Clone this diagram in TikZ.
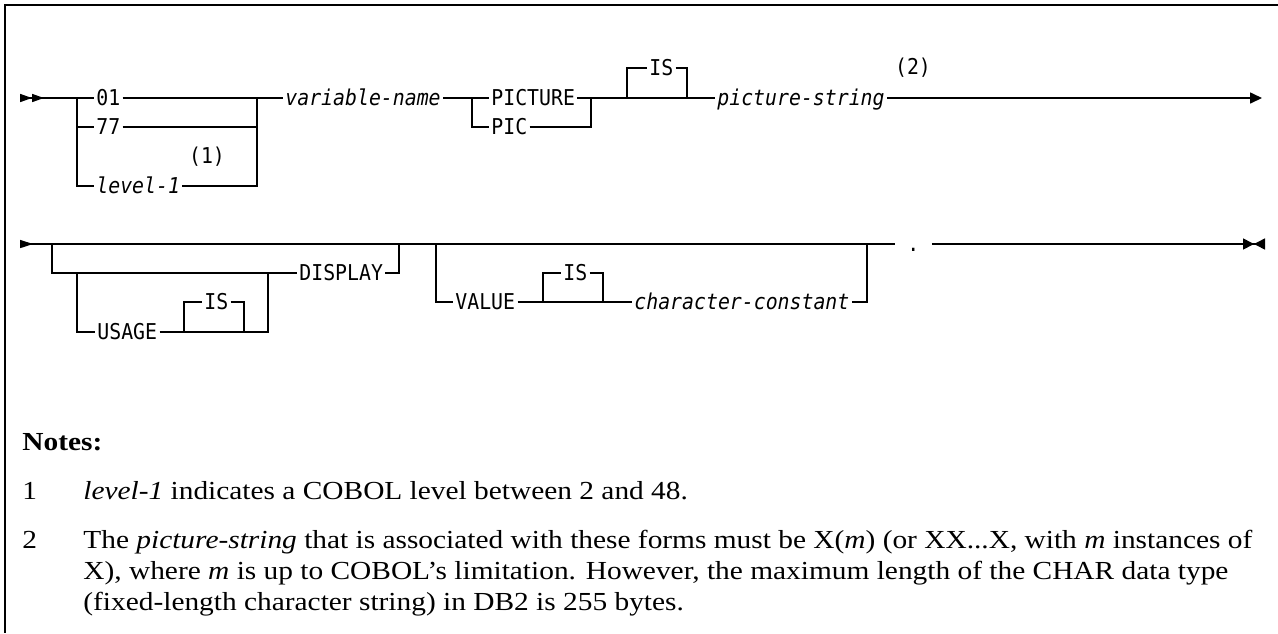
\documentclass[tikz,border=0pt]{standalone}
\usepackage{fontspec}
\setmainfont{Liberation Serif}[FakeStretch=1.13]
\setmonofont{DejaVu Sans Mono}[FakeStretch=0.91]
\usetikzlibrary{arrows.meta}

\begin{document}
\begin{tikzpicture}[x=0.5pt, y=-0.5pt,
        rail/.style={line width=0.8pt},
        kw/.style={anchor=west, inner xsep=1pt, inner ysep=0pt, text height=7.9pt, text depth=0pt, font=\ttfamily\fontsize{10.9}{12}\selectfont},
        var/.style={kw, font=\ttfamily\itshape\fontsize{10.9}{12}\selectfont},
        fnref/.style={inner sep=0pt, font=\ttfamily\fontsize{10.9}{12}\selectfont},
        note/.style={anchor=base west, inner sep=0pt, align=left, font=\fontsize{13}{15.5}\selectfont\lineskiplimit-20pt\relax},
        begintip/.style={{Triangle[reversed,length=6pt,width=4pt]Triangle[reversed,length=6pt,width=4pt]}-},
        contintip/.style={{Triangle[reversed,length=6.5pt,width=4pt]}-},
        contouttip/.style={-{Triangle[length=6pt,width=5.5pt]}},
        finaltip/.style={-{Triangle[length=5.5pt,width=5.5pt]Triangle[reversed,length=5.5pt,width=5.5pt]}}]
                \useasboundingbox (0,0) rectangle (1278,633);
                \draw[line width=1.2pt] (1278,5) -- (5,5) -- (5,633);
                \coordinate (s1) at (20,98);
                \coordinate (j1) at (77,98);
                \coordinate (k1) at (257,98);
                \node[kw] (n01) at (94,98) {01};
                \node[kw] (n77) at (94,127) {77};
                \node[var] (lev) at (94,186) {level-1};
                \node[fnref] (r1) at (207,157) {(1)};
                \node[var] (vname) at (283,98) {variable-name};
                \coordinate (j2) at (472,98);
                \coordinate (k2) at (591,98);
                \node[kw] (pict) at (489,98) {PICTURE};
                \node[kw] (pic) at (489,127) {PIC};
                \coordinate (j3) at (627,98);
                \coordinate (k3) at (687,98);
                \node[kw] (is1) at (647,68) {IS};
                \node[var] (pstr) at (715,98) {picture-string};
                \node[fnref] (r2) at (913,68) {(2)};
                \coordinate (e1) at (1262,98);
                \draw[rail, begintip] (s1) -- (j1);
                \draw[rail] (j1) -- (n01) -- (k1) -- (vname);
                \draw[rail] (j1) |- (n77) -| (k1);
                \draw[rail] (j1) |- (lev) -| (k1);
                \draw[rail] (vname) -- (j2) -- (pict) -- (k2) -- (j3) -- (k3) -- (pstr);
                \draw[rail] (j2) |- (pic) -| (k2);
                \draw[rail] (j3) |- (is1) -| (k3);
                \draw[rail, contouttip] (pstr) -- (e1);
                \coordinate (s2) at (20,244);
                \coordinate (j4) at (52,244);
                \coordinate (k4) at (399,244);
                \coordinate (j5) at (436,244);
                \coordinate (k5) at (867,244);
                \coordinate (j6) at (77,273);
                \coordinate (k6) at (268,273);
                \coordinate (j7) at (184,332);
                \coordinate (k7) at (244,332);
                \coordinate (j8) at (543,302);
                \coordinate (k8) at (603,302);
                \coordinate (e2) at (1265,244);
                \node[kw] (disp) at (297,273) {DISPLAY};
                \node[kw] (usage) at (95,332) {USAGE};
                \node[kw] (is2) at (202,302) {IS};
                \node[kw] (val) at (453,302) {VALUE};
                \node[kw] (is3) at (561,273) {IS};
                \node[var] (cc) at (632,302) {character-constant};
                \node[kw, inner xsep=6pt] (dot) at (895,244) {.};
                \draw[rail, contintip] (s2) -- (j4) -- (k4) -- (j5) -- (k5) -- (dot);
                \draw[rail] (j4) |- (disp) -| (k4);
                \draw[rail] (j6) |- (usage) -- (j7) -- (k7) -| (k6);
                \draw[rail] (j7) |- (is2) -| (k7);
                \draw[rail] (j5) |- (val) -- (j8) -- (k8) -- (cc) -| (k5);
                \draw[rail] (j8) |- (is3) -| (k8);
                \draw[rail, finaltip] (dot) -- (e2);
                \node[note, font=\bfseries\fontsize{13}{15.5}\selectfont] (notes) at (22,450) {Notes:};
                \node[note] (num1) at (22,499) {1};
                \node[note] (txt1) at (83,499) {\textit{level-1} indicates a COBOL level between 2 and 48.};
                \node[note] (num2) at (22,548) {2};
                \node[note] (txt2) at (83,610) {The \textit{picture-string} that is associated with these forms must be X(\textit{m}) (or XX...X, with \textit{m} instances of\\
                    X), where \textit{m} is up to COBOL's limitation. However, the maximum length of the CHAR data type\\
                    (fixed-length character string) in DB2 is 255 bytes.};
            \end{tikzpicture}
\end{document}
